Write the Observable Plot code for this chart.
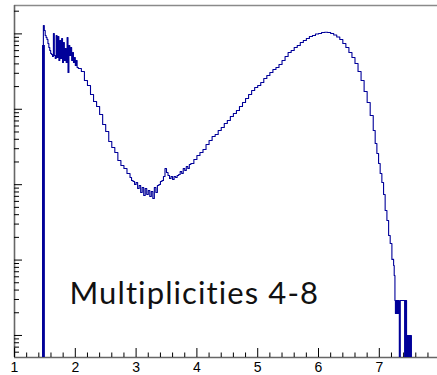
<!DOCTYPE html>
<html><head><meta charset="utf-8">
<script src="https://cdn.jsdelivr.net/npm/d3@7"></script>
<script src="https://cdn.jsdelivr.net/npm/@observablehq/plot@0.6"></script>
<style>body{margin:0;background:#fff;overflow:hidden} .mlabel text{letter-spacing:1.1px}</style>
</head><body><div id="chart"></div>
<script>
// Histogram bin left edges and bin contents (log-scale y)
const binX = [
  1.450,1.462,1.475,1.490,1.505,1.520,1.535,1.550,1.565,1.580,1.595,1.610,1.625,
  1.640,1.655,1.670,1.685,1.700,1.715,1.730,1.745,1.760,1.775,1.790,1.805,1.820,
  1.835,1.850,1.865,1.880,1.895,1.910,1.925,1.940,1.955,1.970,1.985,2.000,2.015,
  2.030,2.050,2.100,2.150,2.200,2.250,2.300,2.350,2.400,2.450,2.500,2.550,2.600,
  2.650,2.700,2.750,2.800,2.850,2.900,2.925,2.950,2.975,3.000,3.025,3.050,3.075,
  3.100,3.125,3.150,3.175,3.200,3.225,3.250,3.275,3.300,3.325,3.350,3.375,3.400,
  3.425,3.450,3.475,3.500,3.525,3.550,3.575,3.600,3.625,3.650,3.675,3.700,3.725,
  3.750,3.775,3.800,3.825,3.850,3.875,3.900,3.950,4.000,4.050,4.100,4.150,4.200,
  4.250,4.300,4.350,4.400,4.450,4.500,4.550,4.600,4.650,4.700,4.750,4.800,4.850,
  4.900,4.950,5.000,5.050,5.100,5.150,5.200,5.250,5.300,5.350,5.400,5.450,5.500,
  5.550,5.600,5.650,5.700,5.750,5.800,5.850,5.900,5.950,6.000,6.050,6.100,6.150,
  6.200,6.250,6.300,6.350,6.400,6.450,6.500,6.550,6.600,6.650,6.700,6.750,6.800,
  6.850,6.900,6.932,6.960,6.988,7.014,7.042,7.070,7.096,7.125,7.153,7.179,7.207,
  7.235,7.245,7.257,7.265,7.273,7.281,7.289,7.297,7.305,7.313,7.321,7.329,7.345,
  7.416,7.424,7.432,7.440,7.448,7.456,7.464,7.472,7.480,7.488,7.496,7.504,7.512,
  7.520,7.528,7.540
];
const counts = [
  1,70200,129200,111000,95200,89600,84300,74600,66000,60300,55000,53300,50150,
  101200,51700,47200,95200,48600,92400,44400,81700,47200,86900,41760,76900,44400,
  64000,41760,89600,30760,70200,51700,66000,44400,56700,41760,48600,38100,44400,
  35840,34760,31720,24100,20690,15720,12690,10900,8530,6285,5075,3741,3114,
  2674,2094,1797,1640,1408,1246,1137,1103,1006,1070,890,976,788,
  918,719,890,742,838,697,812,656,918,788,976,1006,1103,
  1137,1285,1640,1451,1324,1209,1285,1172,1285,1246,1324,1366,1497,
  1408,1640,1543,1744,1640,1853,1911,2159,2439,2674,2930,3414,3857,
  4360,4635,5235,5735,6480,7100,8030,8800,9640,10900,12310,13910,15720,
  17760,19460,20690,22670,25620,28070,30760,33720,35840,39300,44400,50150,56700,
  60300,66000,70200,76900,81700,86900,92400,95200,99700,101200,104400,105300,104400,
  101200,96700,91000,84300,74600,66000,56700,48600,40500,31720,24100,17220,12310,
  8280,5235,3519,2593,1911,1408,1070,742,455,335,212,166,102,
  84.8,62.5,29.1,19.6,29.1,19.6,29.1,19.6,29.1,19.6,29.1,1,29.1,
  1,29.1,1,29.1,1,10,1,10,1,10,1,10,1,
  10,1,1
];
const xTickLabels = [1, 2, 3, 4, 5, 6, 7];
const yMajorTicks = [10, 100, 1000, 10000, 100000];
const xDomain = [1, 7.957];
const yDomain = [5.1, 238000];
const labelText = "Multiplicities 4-8";

const hist = binX.map((x, i) => ({x, y: counts[i]}));
const xMinor = d3.range(1.2, 7.95, 0.2).filter(v => Math.abs(v - Math.round(v)) > 1e-6);
const yMinor = [];
for (const dec of [1, 10, 100, 1000, 10000, 100000]) for (let k = 2; k <= 9; k++) {
  const v = k * dec; if (v >= yDomain[0] && v <= yDomain[1]) yMinor.push(v);
}

const W = 437, H = 375, mL = 14, mR = 0, mT = 5, mB = 18;
const innerW = W - mL - mR, innerH = H - mT - mB;
const blue = "#000099";

const chart = Plot.plot({
  width: W, height: H,
  marginLeft: mL, marginRight: mR, marginTop: mT, marginBottom: mB,
  style: {fontFamily: "'Liberation Sans', Arial, sans-serif", fontSize: "14px", background: "#fff", color: "#000"},
  x: {domain: xDomain, axis: null},
  y: {type: "log", domain: yDomain, axis: null},
  marks: [
    Plot.ruleY([yDomain[1]], {stroke: "#8a8a8a", strokeWidth: 1.6}),
    Plot.ruleX([xDomain[0]], {stroke: "#666", strokeWidth: 1.6}),
    Plot.ruleY([yDomain[0]], {stroke: "#666", strokeWidth: 1.6}),
    Plot.tickX(xTickLabels, {x: d => d, insetTop: innerH - 9, stroke: "#000"}),
    Plot.tickX(xMinor, {x: d => d, insetTop: innerH - 4.5, stroke: "#000"}),
    Plot.tickY(yMajorTicks, {y: d => d, insetRight: innerW - 8, stroke: "#000"}),
    Plot.tickY(yMinor, {y: d => d, insetRight: innerW - 5, stroke: "#000"}),
    Plot.line(hist, {x: "x", y: "y", curve: "step-after", stroke: blue, strokeWidth: 1.1, clip: true}),
    Plot.ruleX([hist[1]], {x: "x", y1: () => yDomain[0], y2: "y", dx: 1, stroke: blue, strokeWidth: 2.6}),
    Plot.axisX(xTickLabels, {tickSize: 0, tickPadding: 5, label: null, fontSize: 14, tickFormat: d => String(d)}),
    Plot.text([labelText], {className: "mlabel", text: d => d, frameAnchor: "bottom-left", dx: 55, dy: -54, textAnchor: "start", lineAnchor: "bottom", fontSize: 31, fontFamily: "Lato", fill: "#111"})
  ]
});
document.getElementById("chart").appendChild(chart);
</script></body></html>
